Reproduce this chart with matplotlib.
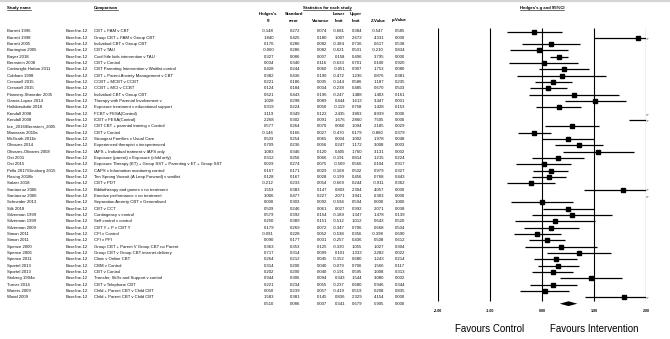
import matplotlib
matplotlib.use("Agg")
import matplotlib.pyplot as plt
from matplotlib.transforms import blended_transform_factory
from matplotlib.patches import Polygon
from matplotlib.lines import Line2D

plt.rcParams['font.family'] = ['Liberation Sans', 'DejaVu Sans']

# ---------------- data ----------------
studies = [
    "Barrett 1996", "Barrett 1998", "Barrett 2005", "Barrington 2005", "Bayer 2018",
    "Bernstein 2008", "Cartwright-Hatton 2011", "Cobham 1998", "Creswell 2015", "Creswell 2015",
    "Flannery-Shroeder 2005", "Garcia-Lopez 2014", "Halldorsdottir 2018", "Kendall 2008", "Kendall 2008",
    "Lee_2016/Bernstein_2005", "Manassis 2010a", "McGrath 2011b", "Olivares 2014", "Olivares-Olivares 2008",
    "Ost 2001", "Ost 2015", "Pella 2017/Ginsburg 2015", "Rasing 2018b", "Salzer 2018",
    "Santacruz 2006", "Santacruz 2006", "Schneider 2013", "Silk 2018", "Silverman 1999",
    "Silverman 1999", "Silverman 2009", "Simon 2011", "Simon 2011", "Spence 2000",
    "Spence 2006", "Spence 2011", "Sportel 2013", "Sportel 2013", "Stoberg 1994a",
    "Turner 2014", "Waters 2009", "Wood 2009",
]
comparisons = [
    "CBT + FAM v CBT", "Group CBT + FAM v Group CBT", "Individual CBT v Group CBT", "CBT v TAU",
    "Cool little kids intervention v TAU", "CBT v Control",
    "CBT Parenting Intervention v Waitlist control", "CBT + Parent Anxiety Management v CBT",
    "CCBT + MCBT v CCBT", "CCBT + MCI v CCBT", "Individual CBT v Group CBT",
    "Therapy with Parental Involvement v", "Exposure treatment v educational support",
    "FCBT v FESA(Control)", "ICBT v FESA(Control)", "CBT CBT + parental training v Control",
    "CBT v Control", "Strongest Families v Usual Care", "Experienced therapist v inexperienced",
    "IAFS + Individual tratment v IAFS only", "Exposure (parent) v Exposure (child only)",
    "Exposure Therapy (ET) + Group SST + Parenting v ET + Group SST",
    "CAPS v Information monitoring control", "Ten Sprong Vooruit (A Leap Forward) v waitlist",
    "CBT v PDT", "Bibliotherapy and games v no treatment", "Emotive performance v no treatment",
    "Separation Anxiety CBT v Generalised", "CBT v CCT", "Contingency v control",
    "Self control v control", "CBT Y + P v CBT Y", "CFI v Control", "CFI v PFI",
    "Group CBT + Parent V Group CBT no Parent", "Group CBT v Group CBT internet delivery",
    "Clinic v Online CBT", "CBM v Control", "CBT v Control",
    "Transfer, Skills and Support v control", "CBT v Telephone CBT",
    "Child + Parent CBT v Child CBT", "Child + Parent CBT v Child CBT",
]
timepoint = "Baseline-12"
hedges_g = [-0.148, 1.840, 0.176, -0.060, 0.327, 0.034, 0.428, 0.382, 0.221, 0.124,
            0.621, 1.028, 0.319, 3.119, 2.268, 0.577, -0.146, 0.503, 0.709, 1.083,
            0.312, 0.029, 0.167, 0.128, -0.212, 1.553, 3.006, 0.000, 0.509, 0.579,
            0.250, 0.179, -0.091, 0.090, 0.363, 0.717, 0.264, 0.314, 0.202, 0.944,
            0.221, 0.050, 1.583]
std_err = [0.272, 0.425, 0.286, 0.286, 0.086, 0.340, 0.244, 0.436, 0.186, 0.184,
           0.443, 0.298, 0.224, 0.349, 0.302, 0.264, 0.166, 0.254, 0.236, 0.346,
           0.256, 0.274, 0.171, 0.167, 0.233, 0.383, 0.477, 0.303, 0.246, 0.392,
           0.389, 0.269, 0.228, 0.177, 0.353, 0.314, 0.212, 0.200, 0.200, 0.306,
           0.234, 0.239, 0.381]
variance = [0.074, 0.180, 0.082, 0.082, 0.007, 0.116, 0.060, 0.190, 0.035, 0.034,
            0.196, 0.089, 0.050, 0.122, 0.091, 0.070, 0.027, 0.065, 0.056, 0.120,
            0.066, 0.075, 0.029, 0.028, 0.054, 0.147, 0.227, 0.092, 0.061, 0.154,
            0.151, 0.072, 0.052, 0.031, 0.125, 0.099, 0.045, 0.040, 0.040, 0.094,
            0.055, 0.057, 0.145]
lower = [-0.681, 1.007, -0.384, -0.621, 0.158, -0.633, -0.051, -0.472, -0.144, -0.238,
         -0.247, 0.444, -0.119, 2.435, 1.676, 0.060, -0.470, 0.004, 0.247, 0.405,
         -0.191, -0.509, -0.168, -0.199, -0.669, 0.803, 2.071, -0.594, 0.027, -0.189,
         -0.512, -0.347, -0.538, -0.257, -0.330, 0.101, -0.152, -0.079, -0.191, 0.343,
         -0.237, -0.419, 0.836]
upper = [0.384, 2.672, 0.736, 0.501, 0.496, 0.701, 0.907, 1.236, 0.586, 0.485,
         1.488, 1.613, 0.758, 3.803, 2.860, 1.094, 0.179, 1.002, 1.172, 1.760,
         0.814, 0.566, 0.502, 0.456, 0.244, 2.304, 3.941, 0.594, 0.992, 1.347,
         1.012, 0.706, 0.356, 0.436, 1.055, 1.333, 0.680, 0.706, 0.595, 1.544,
         0.680, 0.519, 2.329]
z_value = [-0.547, 4.331, 0.617, -0.210, 3.795, 0.100, 1.753, 0.876, 1.187, 0.670,
           1.403, 3.447, 1.428, 8.939, 7.505, 2.185, -0.880, 1.978, 3.008, 3.131,
           1.215, 0.104, 0.979, 0.768, -0.911, 4.057, 6.303, 0.000, 2.071, 1.478,
           0.643, 0.668, -0.398, 0.508, 1.027, 2.282, 1.243, 1.566, 1.008, 3.080,
           0.946, 0.208, 4.154]
p_value = [0.585, 0.000, 0.538, 0.834, 0.000, 0.920, 0.080, 0.381, 0.235, 0.503,
           0.161, 0.001, 0.153, 0.000, 0.000, 0.029, 0.379, 0.048, 0.003, 0.002,
           0.224, 0.917, 0.327, 0.443, 0.362, 0.000, 0.000, 1.000, 0.038, 0.139,
           0.520, 0.504, 0.690, 0.612, 0.304, 0.022, 0.214, 0.117, 0.313, 0.002,
           0.344, 0.835, 0.000]
pooled = [0.510, 0.086, 0.007, 0.341, 0.679, 5.905, 0.000]  # g, se, var, lower, upper, z, p

x_ticks = [-2, -1, 0, 1, 2]
x_tick_labels = ["-2.00", "-1.00", "0.00", "1.00", "2.00"]
favours = ["Favours Control", "Favours Intervention"]

# ---------------- layout ----------------
W, H = 670, 339
fig = plt.figure(figsize=(W / 100, H / 100), dpi=100)
fig.patch.set_facecolor("white")

row0_px, row_px = 31.5, 6.33          # first row centre and row pitch (pixels)
ax = fig.add_axes([438 / W, 0, 208 / W, 1])
ax.set_xlim(-2, 2)
ax.set_ylim((H - row0_px) / row_px, -row0_px / row_px)
ax.axis("off")

def row_of(px):
    return (px - row0_px) / row_px

tr = blended_transform_factory(fig.transFigure, ax.transData)
FS = 3.1
TXT = "#111111"
n = len(studies)
summary_row = n

# grey strip along the top edge
fig.add_artist(Line2D([0, 1], [1 - 1 / H, 1 - 1 / H], transform=fig.transFigure,
                      color="#d4d4d4", lw=1.6))

# ---------------- table ----------------
num_cols = [hedges_g, std_err, variance, lower, upper, z_value, p_value]
num_right = [274, 300, 327, 345, 362, 384, 405]

for i in range(n):
    ax.text(7 / W, i, studies[i], transform=tr, fontsize=FS, ha="left", va="center", color=TXT)
    ax.text(66 / W, i, timepoint, transform=tr, fontsize=FS, ha="left", va="center", color=TXT)
    ax.text(94 / W, i, comparisons[i], transform=tr, fontsize=FS, ha="left", va="center",
            color=TXT)
    for col, xr in zip(num_cols, num_right):
        ax.text(xr / W, i, f"{col[i]:.3f}", transform=tr, fontsize=FS,
                ha="right", va="center", color=TXT)
for val, xr in zip(pooled, num_right):
    ax.text(xr / W, summary_row, f"{val:.3f}", transform=tr, fontsize=FS,
            ha="right", va="center", color=TXT)

# headers
HEAD_Y = row_of(7.5)
underlined = []
underlined.append(ax.text(7 / W, HEAD_Y, "Study name", transform=tr, fontsize=FS,
                          fontweight="bold", ha="left", va="center"))
underlined.append(ax.text(94 / W, HEAD_Y, "Comparison", transform=tr, fontsize=FS,
                          fontweight="bold", ha="left", va="center"))
underlined.append(ax.text(327 / W, HEAD_Y, "Statistics for each study", transform=tr,
                          fontsize=FS, fontweight="bold", ha="center", va="center"))
underlined.append(ax.text(0, HEAD_Y, "Hedges's g and 95%CI", fontsize=FS,
                          fontweight="bold", ha="center", va="center"))

col_heads = [("Hedges's", "g"), ("Standard", "error"), ("", "Variance"), ("Lower", "limit"),
             ("Upper", "limit"), ("", "Z-Value"), ("", "p-Value")]
for (l1, l2), xr in zip(col_heads, num_right):
    xc = (xr - 6) / W
    if l1:
        ax.text(xc, row_of(14), l1, transform=tr, fontsize=FS, fontweight="bold",
                ha="center", va="center")
    ax.text(xc, row_of(20.5), l2, transform=tr, fontsize=FS, fontweight="bold",
            ha="center", va="center")

# ---------------- forest plot ----------------
ax.vlines(x_ticks, row_of(27.5), row_of(300.5), color="black", lw=0.8)

for i in range(n):
    lo, hi, g = lower[i], upper[i], hedges_g[i]
    if lo < 2:
        ax.plot([max(lo, -2), min(hi, 2)], [i, i], color="black", lw=0.9,
                solid_capstyle="butt")
    if hi > 2:
        ax.text(2.0, i, ">", fontsize=3.2, ha="left", va="center")
    if -2 <= g <= 2:
        ax.plot(g, i, marker="s", ms=3.5, color="black", mec="black")

g0, lo0, hi0 = pooled[0], pooled[3], pooled[4]
dh = 0.38
ax.add_patch(Polygon([[lo0, summary_row], [g0, summary_row - dh], [hi0, summary_row],
                      [g0, summary_row + dh]], closed=True, color="black", lw=0))

for xt, lab in zip(x_ticks, x_tick_labels):
    ax.text(xt, row_of(311), lab, fontsize=2.6, fontweight="bold", ha="center", va="center")

ax.text(-1, row_of(329), favours[0], fontsize=7, ha="center", va="center")
ax.text(1, row_of(329), favours[1], fontsize=7, ha="center", va="center")

# underline the section headers
fig.canvas.draw()
renderer = fig.canvas.get_renderer()
for t in underlined:
    bb = t.get_window_extent(renderer)
    y = (bb.y0 - 0.6) / H
    fig.add_artist(Line2D([bb.x0 / W, bb.x1 / W], [y, y], transform=fig.transFigure,
                          color="black", lw=0.4))

fig.savefig("out.png", dpi=100, facecolor="white")
